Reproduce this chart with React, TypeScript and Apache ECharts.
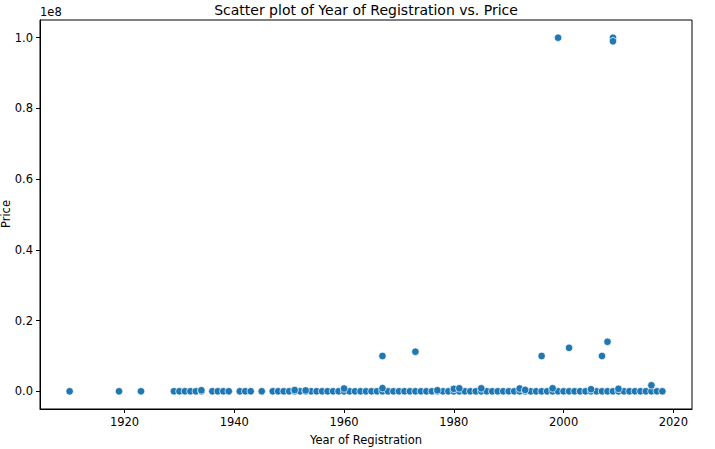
import React, { useEffect, useRef } from "react";
import * as echarts from "echarts";

// Years that have listings near zero price (base row)
const baseYears = [
  1910, 1919, 1923, 1929, 1930, 1931, 1932, 1933, 1934, 1936, 1937, 1938, 1939,
  1941, 1942, 1943, 1945, 1947, 1948, 1949, 1950, 1951, 1952, 1953, 1954, 1955,
  1956, 1957, 1958, 1959, 1960, 1961, 1962, 1963, 1964, 1965, 1966, 1967, 1968,
  1969, 1970, 1971, 1972, 1973, 1974, 1975, 1976, 1977, 1978, 1979, 1980, 1981,
  1982, 1983, 1984, 1985, 1986, 1987, 1988, 1989, 1990, 1991, 1992, 1993, 1994,
  1995, 1996, 1997, 1998, 1999, 2000, 2001, 2002, 2003, 2004, 2005, 2006, 2007,
  2008, 2009, 2010, 2011, 2012, 2013, 2014, 2015, 2016, 2017, 2018,
];
const basePrices = [
  1000, 2500, 8000, 12000, 15000, 9000, 14000, 11000, 18000, 13000, 10000, 16000, 9500,
  7000, 12000, 8500, 6000, 9000, 11000, 7500, 8000, 10000, 12000, 9000, 8500, 7000,
  9500, 8000, 7500, 6500, 7000, 6000, 5500, 6000, 6500, 7000, 6000, 6500, 5000,
  5500, 5000, 4500, 5000, 4500, 4000, 3500, 3000, 3500, 3000, 3000, 2800, 2500,
  2500, 2200, 2000, 2000, 1800, 1500, 1500, 1200, 1000, 1000, 1000, 900, 900,
  900, 1000, 1100, 1200, 1400, 1600, 1900, 2200, 2600, 3000, 3500, 4200, 5000,
  6000, 7000, 8500, 10000, 12000, 14000, 16000, 18000, 20000, 9000, 5000,
];

// Slightly raised cheap-ish outliers near the bottom
const lowYears = [1934, 1951, 1953, 1960, 1967, 1977, 1980, 1981, 1985, 1992, 1993, 1998, 2005, 2010, 2016];
const lowPrices = [300000, 350000, 250000, 800000, 900000, 300000, 700000, 850000, 850000, 800000, 400000, 850000, 600000, 700000, 1700000];

// High-price outliers
const highYears = [1967, 1973, 1996, 2001, 2007, 2008, 1999, 2009, 2009];
const highPrices = [10000000, 11200000, 10000000, 12300000, 10000000, 14000000, 100000000, 100000000, 99000000];

const xTicks = [1920, 1940, 1960, 1980, 2000, 2020];
const yTicks = [0, 20000000, 40000000, 60000000, 80000000, 100000000];

const FONT = "DejaVu Sans";

export default function App() {
  const ref = useRef<HTMLDivElement>(null);

  useEffect(() => {
    document.body.style.margin = "0";
    const chart = echarts.init(ref.current!, null, { renderer: "svg" });
    const data: [number, number][] = [];
    baseYears.forEach((y, i) => data.push([y, basePrices[i]]));
    lowYears.forEach((y, i) => data.push([y, lowPrices[i]]));
    highYears.forEach((y, i) => data.push([y, highPrices[i]]));

    const axisLine = { show: true, onZero: false, lineStyle: { color: "#000", width: 1 } };
    chart.setOption({
      animation: false,
      backgroundColor: "#fff",
      grid: { left: 40, right: 23, top: 20, bottom: 40, containLabel: false, outerBoundsMode: "none" },
      graphic: [
        {
          type: "text",
          x: 366,
          y: 3,
          style: {
            text: "Scatter plot of Year of Registration vs. Price",
            font: `14px ${FONT}`,
            fill: "#000",
            textAlign: "center",
            textVerticalAlign: "top",
          },
        },
        {
          type: "text",
          x: 40,
          y: 6,
          style: {
            text: "1e8",
            font: `11.5px ${FONT}`,
            fill: "#000",
            textAlign: "left",
            textVerticalAlign: "top",
          },
        },
        {
          type: "text",
          x: 6,
          y: 214,
          rotation: Math.PI / 2,
          style: {
            text: "Price",
            font: `11.5px ${FONT}`,
            fill: "#000",
            textAlign: "center",
            textVerticalAlign: "middle",
          },
        },
        {
          type: "rect",
          shape: { x: 40, y: 20, width: 652, height: 389 },
          style: { fill: "none", stroke: "#000", lineWidth: 1 },
          z: 100,
          silent: true,
        },
      ],
      xAxis: {
        type: "value",
        min: 1904.6,
        max: 2023.4,
        name: "Year of Registration",
        nameLocation: "middle",
        nameGap: 25,
        nameTextStyle: { fontFamily: FONT, fontSize: 11.5, color: "#000" },
        axisLine,
        splitLine: { show: false },
        axisTick: { show: true, length: 4, lineStyle: { color: "#000" }, customValues: xTicks },
        axisLabel: {
          fontFamily: FONT,
          fontSize: 11.5,
          color: "#000",
          margin: 7,
          customValues: xTicks,
          formatter: (v: number) => String(Math.round(v)),
        },
      },
      yAxis: {
        type: "value",
        min: -5000000,
        max: 105000000,
        axisLine,
        splitLine: { show: false },
        axisTick: { show: true, length: 4, lineStyle: { color: "#000" }, customValues: yTicks },
        axisLabel: {
          fontFamily: FONT,
          fontSize: 11.5,
          color: "#000",
          margin: 7,
          customValues: yTicks,
          formatter: (v: number) => (v / 1e8).toFixed(1),
        },
      },
      series: [
        {
          type: "scatter",
          data,
          symbol: "circle",
          symbolSize: 7.5,
          itemStyle: { color: "#1f77b4", borderColor: "#fff", borderWidth: 0.7, opacity: 1 },
        },
      ],
    });
    return () => chart.dispose();
  }, []);

  return (
    <div
      ref={ref}
      style={{ position: "absolute", left: 0, top: 0, width: 715, height: 449 }}
    />
  );
}
